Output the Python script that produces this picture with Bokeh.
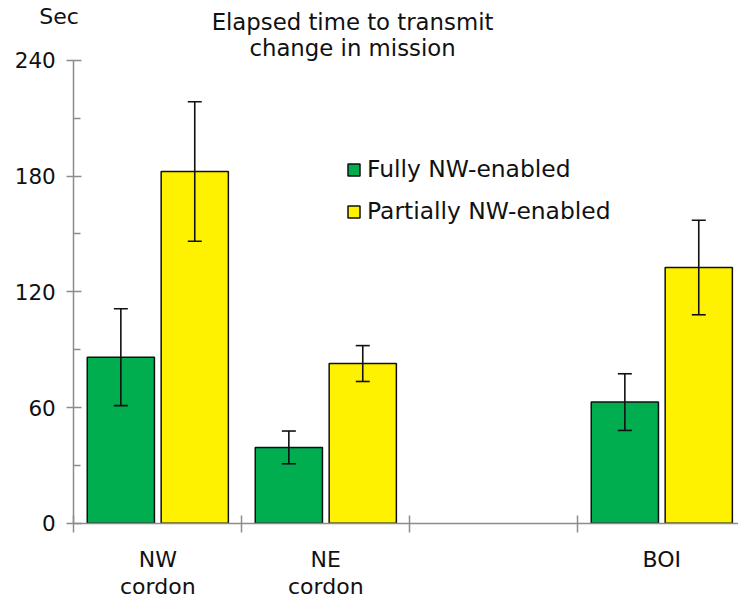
import numpy as np
from bokeh.plotting import figure
from bokeh.core.properties import value
from bokeh.models import (ColumnDataSource, FixedTicker, Whisker, TeeHead, Legend,
                          LegendItem, Label, LabelSet, Range1d)
from bokeh.embed import file_html
from bokeh.resources import INLINE

# ---- data ----
categories = ["NW\ncordon", "NE\ncordon", "", "BOI"]
series_names = ["Fully NW-enabled", "Partially NW-enabled"]
fully = [86.1, 39.3, None, 62.8]
fully_err = [25.1, 8.5, None, 14.7]
partially = [182.4, 82.8, None, 132.6]
partially_err = [36.2, 9.3, None, 24.5]
y_ticks = [0, 60, 120, 180, 240]
y_minor = [30, 90, 150, 210]
title_lines = ["Elapsed time to transmit", "change in mission"]
y_unit = "Sec"

colors = ["#00AD4F", "#FFF200"]
FONT = "DejaVu Sans"
TXT = "#111111"
AXC = "#8c8c8c"

W, H = 738, 600
# frame covers the whole canvas; axes are pinned at data 0 and bounded
p = figure(width=W, height=H, output_backend="svg", toolbar_location=None,
           x_range=Range1d(-0.4363, 3.9565), y_range=Range1d(-40.1, 271.1),
           min_border=0)
p.grid.visible = False
p.outline_line_color = None
p.background_fill_color = "white"

# bars
idx = np.arange(len(categories))
renderers = []
for k, (vals, errs, off) in enumerate([(fully, fully_err, -0.22), (partially, partially_err, 0.22)]):
    xs, tops, ups, lows = [], [], [], []
    for i, (v, e) in enumerate(zip(vals, errs)):
        if v is None:
            continue
        xs.append(idx[i] + 0.5 + off)
        tops.append(v)
        ups.append(v + e)
        lows.append(v - e)
    src = ColumnDataSource(dict(x=xs, top=tops, upper=ups, lower=lows))
    r = p.vbar(x="x", top="top", width=0.40, bottom=0, source=src,
               fill_color=colors[k], line_color="#111111", line_width=1.5)
    renderers.append(r)
    w = Whisker(source=src, base="x", upper="upper", lower="lower", dimension="height",
                line_color="#111111", line_width=1.6, level="overlay",
                upper_head=TeeHead(size=14, line_color="#111111", line_width=1.6),
                lower_head=TeeHead(size=14, line_color="#111111", line_width=1.6))
    p.add_layout(w)

# axes
ya = p.yaxis[0]
ya.fixed_location = 0
ya.bounds = (y_ticks[0], y_ticks[-1])
ya.ticker = FixedTicker(ticks=y_ticks, minor_ticks=y_minor)
ya.axis_line_color = AXC
ya.axis_line_width = 1.5
ya.major_tick_line_color = AXC
ya.major_tick_line_width = 1.5
ya.minor_tick_line_color = AXC
ya.minor_tick_line_width = 1.5
ya.major_tick_in = 8
ya.major_tick_out = 7
ya.minor_tick_in = 7
ya.minor_tick_out = 0
ya.major_label_standoff = 11
ya.major_label_text_font = FONT
ya.major_label_text_font_size = "21.5px"
ya.major_label_text_color = TXT

xa = p.xaxis[0]
xa.fixed_location = 0
xa.bounds = (0, len(categories))
# category boundaries drawn as (minor) ticks, no tick labels
xa.ticker = FixedTicker(ticks=[], minor_ticks=list(range(len(categories) + 1)))
xa.axis_line_color = AXC
xa.axis_line_width = 1.5
xa.minor_tick_line_color = AXC
xa.minor_tick_line_width = 1.5
xa.minor_tick_in = 8
xa.minor_tick_out = 9
xa.major_tick_line_color = None

# category labels (two lines)
lx, ly, lt, lo = [], [], [], []
for i, c in enumerate(categories):
    for j, line in enumerate(c.split("\n")):
        if not line:
            continue
        lx.append(idx[i] + 0.5)
        ly.append(0)
        lt.append(line)
        lo.append(-43.5 - 27 * j)
lsrc = ColumnDataSource(dict(x=lx, y=ly, text=lt, yo=lo))
p.add_layout(LabelSet(x="x", y="y", text="text", y_offset="yo", source=lsrc,
                      text_align="center", text_baseline="alphabetic",
                      text_font=value(FONT), text_font_size=value("22px"),
                      text_color=value(TXT)))

# title and unit labels
for j, t in enumerate(title_lines):
    p.add_layout(Label(x=1.659, y=259.7 - 13.0 * j, text=t, text_align="center",
                       text_baseline="alphabetic", text_font=FONT,
                       text_font_size="22.8px", text_color=TXT))
p.add_layout(Label(x=-0.088, y=262.8, text=y_unit, text_align="center",
                   text_baseline="alphabetic", text_font=FONT,
                   text_font_size="22px", text_color=TXT))

legend = Legend(items=[LegendItem(label=series_names[k], renderers=[renderers[k]]) for k in range(2)],
                location=(346, 375), border_line_color=None, background_fill_alpha=0,
                padding=0, margin=0, glyph_width=15, glyph_height=15,
                label_standoff=6, spacing=14, label_height=26,
                label_text_font=FONT, label_text_font_size="23.4px",
                label_text_color=TXT)
p.add_layout(legend, "center")

open("out.html", "w").write(file_html(p, INLINE))
